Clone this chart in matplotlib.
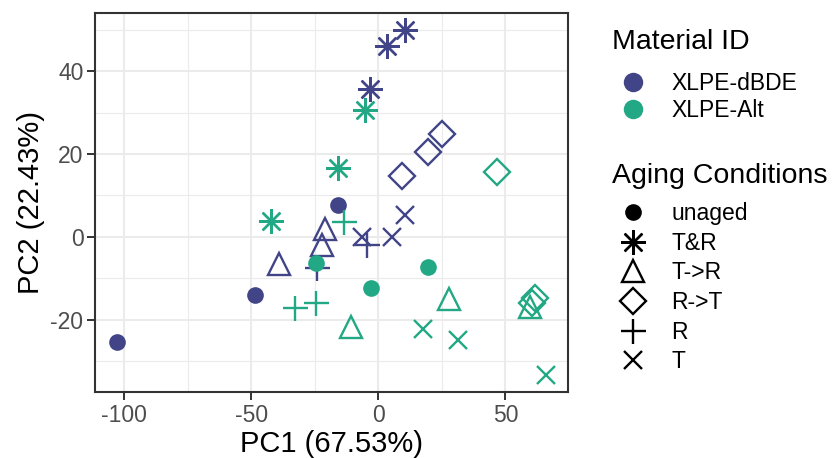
import matplotlib

matplotlib.use("Agg")
import matplotlib.pyplot as plt
from matplotlib.lines import Line2D
from matplotlib.ticker import MultipleLocator

plt.rcParams["font.family"] = ["Liberation Sans", "DejaVu Sans"]
plt.rcParams["axes.unicode_minus"] = False

# PCA scores
materials = ["XLPE-dBDE", "XLPE-Alt"]
material_colors = ["#414487", "#22A884"]
conditions = ["unaged", "T&R", "T->R", "R->T", "R", "T"]

dbde_cond = ["unaged", "unaged", "unaged", "T&R", "T&R", "T&R",
             "T->R", "T->R", "T->R", "R->T", "R->T", "R->T",
             "R", "R", "T", "T", "T"]
dbde_pc1 = [-103.0, -48.4, -16.1, 10.5, 3.3, -3.3,
            -39.2, -21.1, -22.4, 24.9, 19.4, 9.2,
            -24.0, -4.3, 10.5, 5.5, -6.3]
dbde_pc2 = [-25.3, -14.0, 7.8, 49.9, 46.1, 35.7,
            -6.6, 1.9, -2.0, 24.9, 20.4, 14.7,
            -7.4, -2.0, 5.3, -0.1, -0.1]

alt_cond = ["unaged", "unaged", "unaged", "T&R", "T&R", "T&R",
            "T->R", "T->R", "T->R", "R->T", "R->T", "R->T",
            "R", "R", "R", "T", "T", "T"]
alt_pc1 = [-24.6, -3.0, 19.7, -5.3, -15.9, -42.4,
           -10.9, 27.9, 59.7, 46.7, 61.8, 60.6,
           -13.5, -32.8, -24.7, 17.6, 31.3, 66.0]
alt_pc2 = [-6.2, -12.2, -7.3, 30.5, 16.6, 3.8,
           -21.6, -15.0, -16.8, 15.6, -14.6, -15.8,
           3.6, -17.1, -16.0, -22.2, -24.8, -33.2]

# marker style per aging condition (ggplot shapes 16, 8, 2, 5, 3, 4)
shape = {
    "unaged": dict(marker="o", ms=12, filled=True),
    "T&R": dict(marker=(8, 2, 0), ms=18, filled=False),
    "T->R": dict(marker="^", ms=16, filled=False),
    "R->T": dict(marker="D", ms=13, filled=False),
    "R": dict(marker="+", ms=18, filled=False),
    "T": dict(marker="x", ms=13.5, filled=False),
}
EDGE_W = 1.7


def draw(ax, cond, pc1, pc2, color):
    for c in conditions:
        xs = [x for x, k in zip(pc1, cond) if k == c]
        ys = [y for y, k in zip(pc2, cond) if k == c]
        if not xs:
            continue
        s = shape[c]
        ax.plot(xs, ys, linestyle="none", marker=s["marker"], ms=s["ms"],
                mec=color, mfc=color if s["filled"] else "none",
                mew=0 if s["filled"] else EDGE_W)


fig = plt.figure(figsize=(8.33, 4.58), dpi=100)
ax = fig.add_axes([0.1144, 0.1441, 0.5669, 0.8282])

draw(ax, dbde_cond, dbde_pc1, dbde_pc2, material_colors[0])
draw(ax, alt_cond, alt_pc1, alt_pc2, material_colors[1])

# theme_bw look
ax.set_axisbelow(True)
ax.xaxis.set_major_locator(MultipleLocator(50))
ax.xaxis.set_minor_locator(MultipleLocator(25))
ax.yaxis.set_major_locator(MultipleLocator(20))
ax.yaxis.set_minor_locator(MultipleLocator(10))
ax.grid(which="major", color="#EBEBEB", linewidth=1.5)
ax.grid(which="minor", color="#EBEBEB", linewidth=0.8)
ax.tick_params(which="major", length=5.5, width=1.4, color="#333333",
               labelsize=16.5, labelcolor="#4D4D4D", pad=3)
ax.tick_params(which="minor", length=0)
for sp in ax.spines.values():
    sp.set_color("#333333")
    sp.set_linewidth(1.5)

ax.set_xlabel("PC1 (67.53%)", fontsize=21, labelpad=2)
ax.set_ylabel("PC2 (22.43%)", fontsize=21, labelpad=4)

# legends: titles as separate text so the title/key gap can match ggplot
fig.text(0.7347, 0.8924, "Material ID", fontsize=20.5, va="baseline", ha="left")
fig.text(0.7347, 0.6004, "Aging Conditions", fontsize=20.5, va="baseline", ha="left")

mat_handles = [Line2D([], [], linestyle="none", marker="o", ms=14, mfc=c, mec=c, mew=0)
               for c in material_colors]
fig.legend(mat_handles, materials, loc="center left", bbox_to_anchor=(0.7434, 0.789),
           frameon=False, fontsize=16.5, labelspacing=0.17, handlelength=1.2,
           handletextpad=1.08, borderpad=0, borderaxespad=0)

cond_handles = []
for c in conditions:
    s = shape[c]
    cond_handles.append(Line2D([], [], linestyle="none", marker=s["marker"], ms=s["ms"],
                               mec="black", mfc="black" if s["filled"] else "none",
                               mew=0 if s["filled"] else EDGE_W))
fig.legend(cond_handles, conditions, loc="center left", bbox_to_anchor=(0.7434, 0.3716),
           frameon=False, fontsize=16.5, labelspacing=0.29, handlelength=1.2,
           handletextpad=1.08, borderpad=0, borderaxespad=0)

fig.savefig("out.png", dpi=100)
